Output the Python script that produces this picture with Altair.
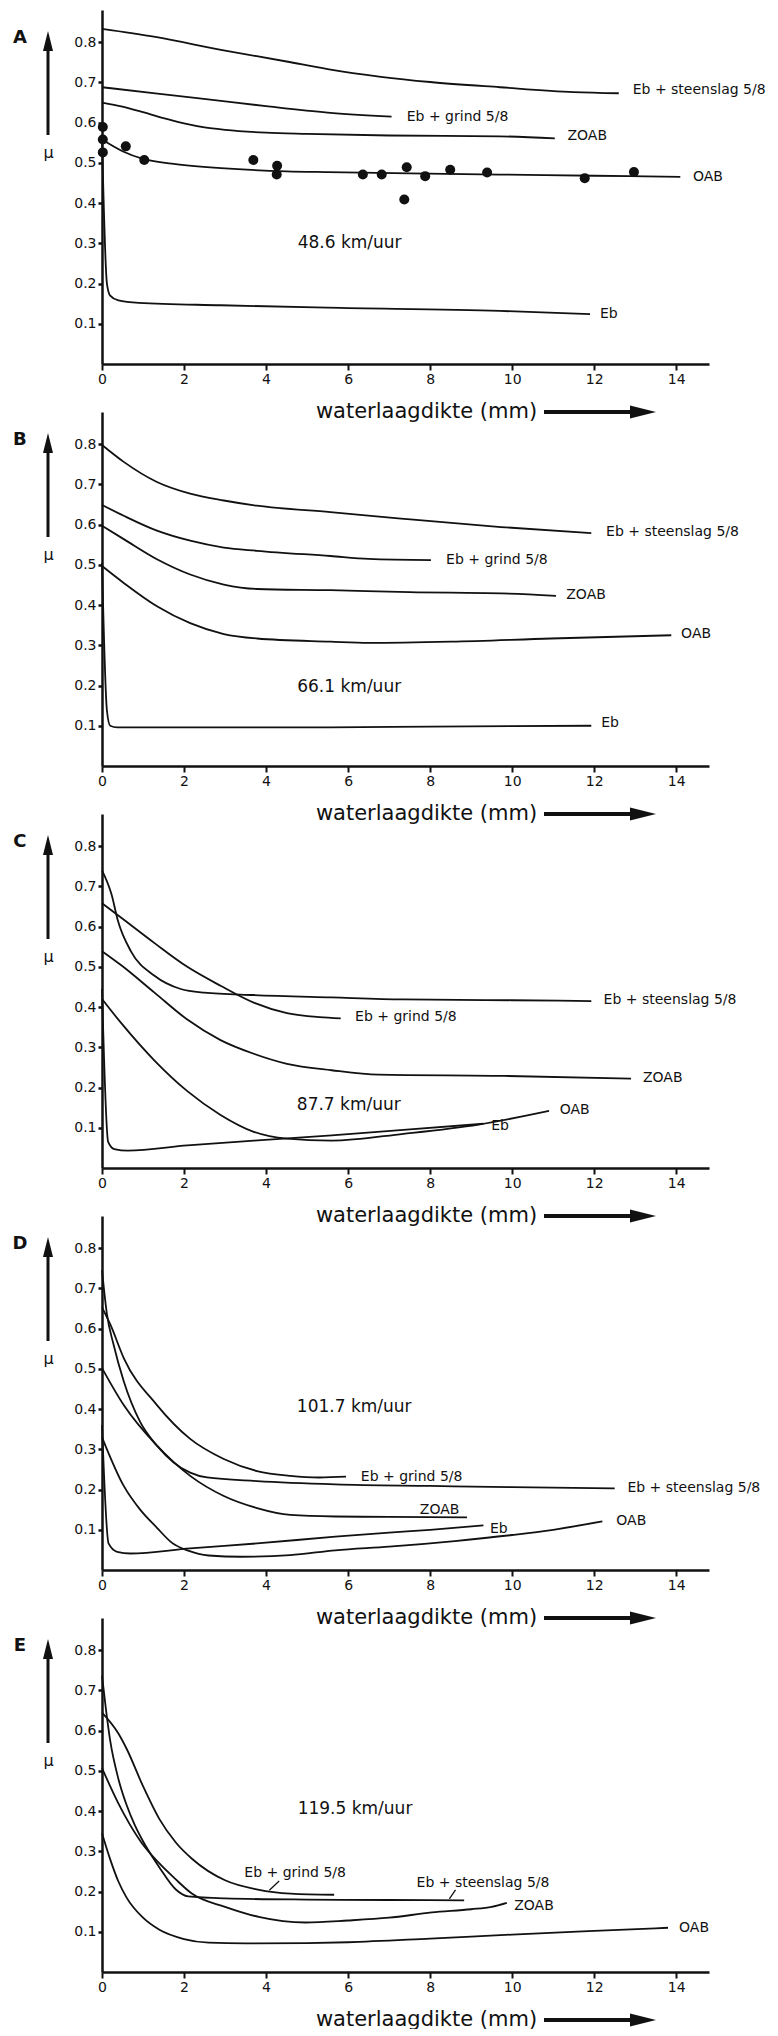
import altair as alt
import pandas as pd

FONT = "DejaVu Sans, Liberation Sans, Arial, sans-serif"
INK = "#111111"

PANELS = ["A", "B", "C", "D", "E"]
SPEEDS = ["48.6 km/uur", "66.1 km/uur", "87.7 km/uur", "101.7 km/uur", "119.5 km/uur"]
X_TICKS = [0, 2, 4, 6, 8, 10, 12, 14]
Y_TICKS = [0.1, 0.2, 0.3, 0.4, 0.5, 0.6, 0.7, 0.8]
X_TITLE = "waterlaagdikte (mm)"
Y_TITLE = "μ"

# ---- panel A (48.6 km/uur) ----
A_STEENSLAG = [(0, 0.833), (1.3, 0.813), (2.9, 0.781), (4.5, 0.752), (5.5, 0.733), (6.8, 0.714),
               (8.0, 0.701), (9.7, 0.688), (11.5, 0.676), (12.6, 0.673)]
A_GRIND = [(0, 0.688), (1.3, 0.673), (2.9, 0.654), (4.0, 0.641), (5.5, 0.625), (7.06, 0.615)]
A_ZOAB = [(0, 0.65), (0.5, 0.64), (1.0, 0.626), (1.5, 0.611), (2.0, 0.598), (2.5, 0.588), (3.0, 0.582),
          (4.0, 0.575), (5.0, 0.572), (7.0, 0.568), (9.7, 0.566), (11.04, 0.561)]
A_OAB = [(0, 0.558), (0.5, 0.529), (1.0, 0.51), (1.7, 0.498), (2.9, 0.487), (4.5, 0.479), (5.5, 0.477),
         (7.5, 0.474), (9.7, 0.471), (12.0, 0.468), (14.1, 0.465)]
A_EB = [(0, 0.56), (0.12, 0.2), (0.2, 0.17), (0.4, 0.158), (0.9, 0.152), (2.9, 0.146), (5.5, 0.14),
        (9.7, 0.132), (11.9, 0.124)]
A_DOTS = [(0.02, 0.589), (0.02, 0.558), (0.02, 0.526), (0.58, 0.541), (1.03, 0.507), (3.69, 0.507),
          (4.27, 0.493), (4.26, 0.471), (6.36, 0.471), (6.82, 0.471), (7.43, 0.489), (7.37, 0.409),
          (7.88, 0.467), (8.49, 0.483), (9.39, 0.476), (11.77, 0.462), (12.97, 0.477)]

# ---- panel B (66.1 km/uur) ----
B_STEENSLAG = [(0, 0.798), (0.53, 0.756), (1.34, 0.706), (2.15, 0.677), (2.97, 0.66), (3.78, 0.647),
               (5.57, 0.631), (7.29, 0.615), (9.73, 0.594), (11.93, 0.579)]
B_GRIND = [(0, 0.649), (0.53, 0.622), (1.34, 0.585), (2.15, 0.56), (2.97, 0.543), (3.78, 0.535),
           (5.57, 0.522), (6.5, 0.515), (8.02, 0.512)]
B_ZOAB = [(0, 0.597), (0.53, 0.564), (1.34, 0.514), (2.15, 0.476), (2.97, 0.451), (3.78, 0.44),
          (5.57, 0.437), (7.5, 0.432), (9.73, 0.429), (11.07, 0.423)]
B_OAB = [(0, 0.497), (0.53, 0.455), (1.34, 0.397), (2.15, 0.355), (2.97, 0.328), (3.78, 0.317),
         (5.57, 0.309), (6.5, 0.306), (8.51, 0.309), (10.95, 0.317), (13.88, 0.325)]
B_EB = [(0, 0.505), (0.12, 0.138), (0.2, 0.1), (0.37, 0.096), (1.34, 0.096), (5.57, 0.096),
        (8.0, 0.098), (11.93, 0.1)]

# ---- panel C (87.7 km/uur) ----
C_STEENSLAG = [(0, 0.74), (0.23, 0.681), (0.39, 0.614), (0.71, 0.538), (1.28, 0.478), (1.92, 0.445),
               (2.49, 0.436), (3.7, 0.43), (5.6, 0.424), (7.35, 0.419), (10.0, 0.417), (11.93, 0.415)]
C_GRIND = [(0, 0.658), (0.47, 0.622), (1.28, 0.559), (2.08, 0.5), (2.89, 0.453), (3.7, 0.411),
           (4.51, 0.385), (5.3, 0.375), (5.82, 0.372)]
C_ZOAB = [(0, 0.539), (0.47, 0.504), (1.28, 0.436), (2.08, 0.369), (2.89, 0.318), (3.7, 0.284),
          (4.51, 0.259), (5.6, 0.243), (6.74, 0.232), (9.79, 0.229), (12.9, 0.222)]
C_OAB = [(0, 0.42), (0.47, 0.36), (1.28, 0.267), (2.08, 0.191), (2.89, 0.132), (3.7, 0.09),
         (4.51, 0.073), (5.6, 0.068), (7.35, 0.085), (9.18, 0.108), (10.9, 0.142)]
C_EB = [(0, 0.445), (0.15, 0.065), (0.3, 0.047), (0.63, 0.043), (2.08, 0.056), (3.7, 0.068),
        (5.6, 0.081), (7.35, 0.095), (9.3, 0.11)]

# ---- panel D (101.7 km/uur) ----
D_STEENSLAG = [(0, 0.745), (0.12, 0.636), (0.28, 0.561), (0.53, 0.469), (0.93, 0.368), (1.34, 0.309),
               (1.75, 0.267), (2.15, 0.242), (2.56, 0.23), (3.78, 0.221), (5.69, 0.213), (8.0, 0.209),
               (10.0, 0.206), (12.5, 0.203)]
D_GRIND = [(0, 0.653), (0.2, 0.611), (0.53, 0.527), (1.34, 0.41), (2.15, 0.326), (2.97, 0.276),
           (3.78, 0.246), (4.59, 0.234), (5.3, 0.23), (5.95, 0.232)]
D_ZOAB = [(0, 0.502), (0.53, 0.41), (1.34, 0.309), (2.15, 0.234), (2.97, 0.184), (3.78, 0.154),
          (4.59, 0.137), (5.69, 0.133), (7.0, 0.132), (8.9, 0.131)]
D_OAB = [(0, 0.33), (0.53, 0.209), (0.93, 0.15), (1.34, 0.105), (1.7, 0.068), (2.1, 0.048),
         (2.6, 0.036), (3.4, 0.033), (4.59, 0.037), (5.69, 0.049), (7.0, 0.058), (8.6, 0.072),
         (10.0, 0.087), (11.0, 0.1), (12.2, 0.121)]
D_EB = [(0, 0.36), (0.16, 0.066), (0.37, 0.045), (0.69, 0.041), (2.15, 0.054), (3.78, 0.066),
        (5.69, 0.083), (7.0, 0.093), (8.0, 0.1), (9.3, 0.111)]

# ---- panel E (119.5 km/uur) ----
E_STEENSLAG = [(0, 0.737), (0.1, 0.65), (0.2, 0.575), (0.4, 0.48), (0.6, 0.415), (0.8, 0.365),
               (1.0, 0.325), (1.4, 0.26), (1.8, 0.205), (2.1, 0.188), (3.0, 0.183), (5.0, 0.18),
               (7.0, 0.179), (8.83, 0.178)]
E_GRIND = [(0, 0.645), (0.4, 0.593), (0.6, 0.555), (1.0, 0.462), (1.4, 0.38), (1.8, 0.322),
           (2.2, 0.281), (3.0, 0.228), (3.8, 0.205), (4.6, 0.195), (5.66, 0.192)]
E_ZOAB = [(0, 0.507), (0.39, 0.421), (0.56, 0.388), (0.96, 0.322), (1.37, 0.273), (1.78, 0.232),
          (2.19, 0.195), (3.0, 0.162), (3.82, 0.137), (4.96, 0.123), (6.0, 0.128), (7.0, 0.135),
          (8.04, 0.148), (9.0, 0.156), (9.5, 0.162), (9.87, 0.172)]
E_OAB = [(0, 0.345), (0.2, 0.28), (0.4, 0.225), (0.6, 0.185), (1.0, 0.135), (1.4, 0.105),
         (2.0, 0.082), (2.6, 0.073), (3.5, 0.071), (5.0, 0.072), (6.0, 0.074), (8.0, 0.083),
         (10.0, 0.093), (12.0, 0.102), (13.8, 0.11)]
E_LEADERS = [(4.08, 0.203, 4.32, 0.226), (8.47, 0.182, 8.62, 0.204)]

# curve labels, anchored in data units (mm, mu)
A_LABELS = [("Eb + steenslag 5/8", 12.94, 0.681), ("Eb + grind 5/8", 7.43, 0.615),
            ("ZOAB", 11.35, 0.566), ("OAB", 14.41, 0.465), ("Eb", 12.14, 0.124)]
B_LABELS = [("Eb + steenslag 5/8", 12.29, 0.581), ("Eb + grind 5/8", 8.39, 0.512),
            ("ZOAB", 11.32, 0.425), ("OAB", 14.12, 0.327), ("Eb", 12.17, 0.106)]
C_LABELS = [("Eb + steenslag 5/8", 12.23, 0.417), ("Eb + grind 5/8", 6.17, 0.376),
            ("ZOAB", 13.19, 0.223), ("OAB", 11.16, 0.145), ("Eb", 9.49, 0.105)]
D_LABELS = [("Eb + grind 5/8", 6.31, 0.232), ("Eb + steenslag 5/8", 12.81, 0.204),
            ("ZOAB", 7.75, 0.148), ("Eb", 9.46, 0.102), ("OAB", 12.54, 0.121)]
E_LABELS = [("Eb + grind 5/8", 3.47, 0.247), ("Eb + steenslag 5/8", 7.67, 0.222),
            ("ZOAB", 10.05, 0.164), ("OAB", 14.07, 0.11)]
SPEED_POS = [(4.77, 0.301), (4.76, 0.196), (4.75, 0.156), (4.75, 0.404), (4.77, 0.404)]
LETTER_POS = (-2.0, 0.81)

CURVES = {
    "A": {"steenslag": A_STEENSLAG, "grind": A_GRIND, "ZOAB": A_ZOAB, "OAB": A_OAB, "Eb": A_EB},
    "B": {"steenslag": B_STEENSLAG, "grind": B_GRIND, "ZOAB": B_ZOAB, "OAB": B_OAB, "Eb": B_EB},
    "C": {"steenslag": C_STEENSLAG, "grind": C_GRIND, "ZOAB": C_ZOAB, "OAB": C_OAB, "Eb": C_EB},
    "D": {"steenslag": D_STEENSLAG, "grind": D_GRIND, "ZOAB": D_ZOAB, "OAB": D_OAB, "Eb": D_EB},
    "E": {"steenslag": E_STEENSLAG, "grind": E_GRIND, "ZOAB": E_ZOAB, "OAB": E_OAB},
}
LABELS = {"A": A_LABELS, "B": B_LABELS, "C": C_LABELS, "D": D_LABELS, "E": E_LABELS}

W, H = 607, 354
XDOM = [0, 14.8]
YDOM = [0, 0.88]

X_ENC = alt.X("x:Q", scale=alt.Scale(domain=XDOM, nice=False, zero=False),
              axis=alt.Axis(values=X_TICKS, title=X_TITLE, titleX=324, titleY=47,
                            titleAlign="center", titleBaseline="middle", titleFontSize=21,
                            titleFontWeight="normal", titleColor=INK, titleFont=FONT,
                            labelFontSize=14, labelFont=FONT,
                            labelColor=INK, labelFlush=False, tickSize=6, tickWidth=2,
                            tickColor=INK, labelPadding=2, domainWidth=2.5, domainColor=INK,
                            grid=False, labelAngle=0))
Y_ENC = alt.Y("y:Q", scale=alt.Scale(domain=YDOM, nice=False, zero=False),
              axis=alt.Axis(values=Y_TICKS, format=".1f", title=Y_TITLE, titleAngle=0,
                            titleX=-54, titleY=142, titleAlign="center", titleBaseline="middle",
                            titleFontSize=16, titleFontWeight="normal", titleColor=INK,
                            titleFont=FONT, labelFontSize=14, labelFont=FONT,
                            labelColor=INK, tickSize=4, tickWidth=2.5,
                            tickColor=INK, labelPadding=2, domainWidth=2.5, domainColor=INK,
                            grid=False))


def one_row():
    return alt.Chart(pd.DataFrame({"k": [0]}))


def panel(i):
    p = PANELS[i]
    rows = []
    for name, pts in CURVES[p].items():
        for j, (x, y) in enumerate(pts):
            rows.append({"series": name, "x": x, "y": y, "o": j})
    lines_df = pd.DataFrame(rows)
    lines = alt.Chart(lines_df).mark_line(
        interpolate="monotone", color=INK, strokeWidth=1.8, clip=False
    ).encode(x=X_ENC, y=Y_ENC, detail="series:N", order="o:Q")

    lab_df = pd.DataFrame([{"label": t, "x": x, "y": y} for t, x, y in LABELS[p]])
    labels = alt.Chart(lab_df).mark_text(
        align="left", baseline="middle", fontSize=14, color=INK, font=FONT
    ).encode(x=X_ENC, y=Y_ENC, text="label:N")

    sp_df = pd.DataFrame([{"label": SPEEDS[i], "x": SPEED_POS[i][0], "y": SPEED_POS[i][1]}])
    speed = alt.Chart(sp_df).mark_text(
        align="left", baseline="middle", fontSize=17, color=INK, font=FONT
    ).encode(x=X_ENC, y=Y_ENC, text="label:N")

    let_df = pd.DataFrame([{"label": p, "x": LETTER_POS[0], "y": LETTER_POS[1]}])
    letter = alt.Chart(let_df).mark_text(
        align="center", baseline="middle", fontSize=18, fontWeight="bold", color=INK, font=FONT
    ).encode(x=X_ENC, y=Y_ENC, text="label:N")

    # axis arrows (decoration)
    x_shaft = one_row().mark_rule(color=INK, strokeWidth=4).encode(
        x=alt.value(442), x2=alt.value(532), y=alt.value(H + 48))
    x_head = one_row().mark_point(
        shape="M-1,-0.5L1,0L-1,0.5Z", filled=True, size=676, color=INK, opacity=1, strokeWidth=0
    ).encode(x=alt.value(541), y=alt.value(H + 48))
    y_shaft = one_row().mark_rule(color=INK, strokeWidth=3).encode(
        x=alt.value(-54), y=alt.value(36), y2=alt.value(125))
    y_head = one_row().mark_point(
        shape="M-0.5,1L0,-1L0.5,1Z", filled=True, size=400, color=INK, opacity=1, strokeWidth=0
    ).encode(x=alt.value(-54), y=alt.value(31))

    layers = [lines, labels, speed, letter, x_shaft, x_head, y_shaft, y_head]

    if p == "A":
        dots_df = pd.DataFrame([{"x": x, "y": y} for x, y in A_DOTS])
        dots = alt.Chart(dots_df).mark_circle(size=100, color=INK, opacity=1).encode(x=X_ENC, y=Y_ENC)
        layers.append(dots)
    if p == "E":
        ld_df = pd.DataFrame([{"x": a, "y": b, "x2": c, "y2": d} for a, b, c, d in E_LEADERS])
        lead = alt.Chart(ld_df).mark_rule(color=INK, strokeWidth=1.3).encode(
            x=X_ENC, y=Y_ENC, x2="x2:Q", y2="y2:Q")
        layers.append(lead)

    return alt.layer(*layers).properties(width=W, height=H)


chart = alt.vconcat(*[panel(i) for i in range(5)], spacing=48, bounds="flush").properties(
    padding={"left": 12, "top": 10, "right": 4, "bottom": 0},
    background="white",
).configure(font=FONT).configure_view(stroke=None, strokeWidth=0)

chart.save("out.html", embed_options={"renderer": "svg", "actions": False})
